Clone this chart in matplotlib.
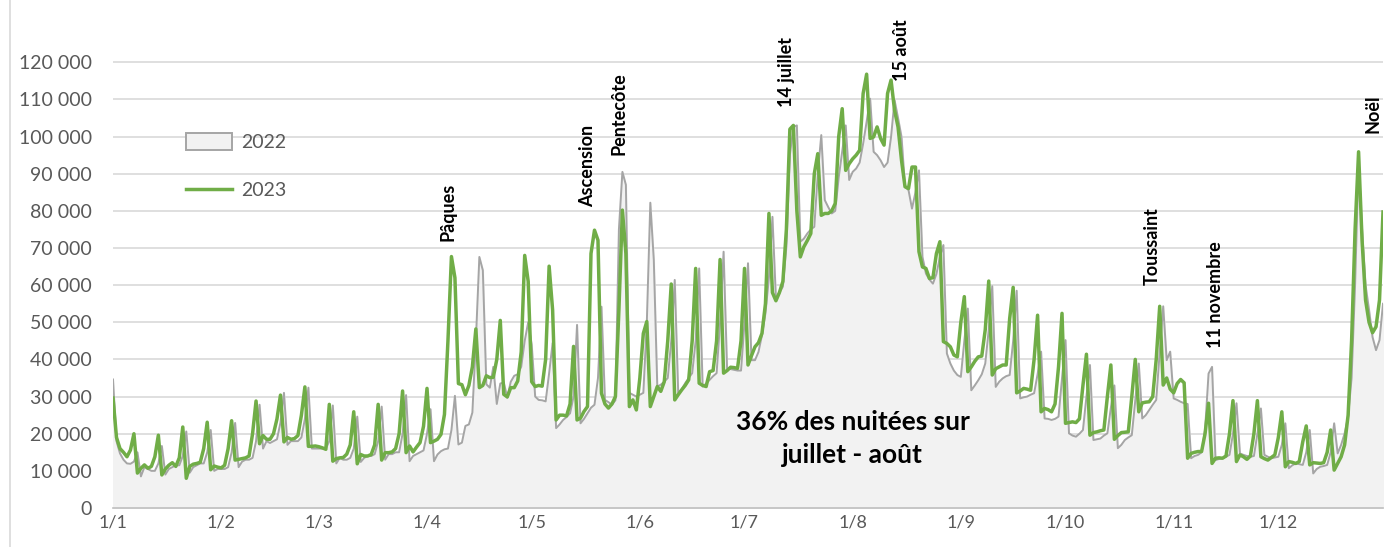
import matplotlib
matplotlib.use('Agg')
import matplotlib.pyplot as plt
from matplotlib.patches import Patch
from matplotlib.lines import Line2D
from matplotlib.ticker import FuncFormatter
import numpy as np

# nuitées par jour, en milliers
jan22 = [34.6, 18, 14.7, 13, 12, 11.9, 12.5, 15, 8.5, 11, 10.5, 10, 10, 12, 16.7,
         9, 10.5, 11, 11.5, 11.5, 14, 20.6, 9.5, 11, 11.5, 12, 12, 15, 21, 10, 10.5]
feb22 = [10.5, 10.5, 11, 15, 22.9, 11, 12.5, 13, 13, 13.5, 18, 27.8, 16, 18, 17.5,
         18, 18.5, 23, 31, 17, 18, 18, 18, 19, 24, 32.4, 16, 16]
mar22 = [16, 16, 16, 18, 27.6, 12, 13.5, 13, 13, 13.5, 16, 24.6, 12.4, 13.5, 14, 14,
         14.5, 18, 27.3, 13, 14.5, 14.5, 15, 15, 20, 30.4, 12.6, 14, 14.5, 15, 15.5]
apr22 = [20, 26.6, 12.6, 14.4, 15.3, 15.8, 16, 21, 30.2, 17.1, 17.6, 22.1, 22.5, 25.7,
         45, 67.6, 64, 33.3, 32.4, 38, 28, 33.5, 33.8, 29.7, 34, 35.6, 36, 38, 45, 50]
may22 = [44, 30, 29.1, 29, 28.7, 36.3, 44.4, 21.5, 22.5, 23.7, 24.5, 25.5, 30, 49.3,
         22.8, 24, 25.5, 27, 27.8, 35, 54.2, 29.1, 28.5, 27.8, 29, 75, 90.5, 87, 31, 30.5, 30]
jun22 = [30.5, 31, 50, 82.2, 66.8, 32.7, 33.2, 34, 35, 45, 61.4, 30.9, 32, 33.6, 35,
         36.3, 45, 64.5, 32.7, 33.5, 34.5, 35.5, 36.3, 50, 69, 37.6, 37.4, 37.2, 37, 37]
jul22 = [50, 65.9, 39.8, 39.8, 42, 46.5, 52.4, 62, 78.4, 56.4, 58, 59.6, 70.3, 95, 102.6,
         103, 71.7, 72.5, 73.9, 75, 75.7, 90, 100.4, 82.9, 81, 79.3, 80, 89, 96, 103, 88.3]
aug22 = [90.5, 91.4, 93, 98.1, 104, 110.2, 95.9, 95, 93.6, 91.8, 93, 99.9, 109.8, 105,
         99.9, 86.5, 85.6, 80.6, 85, 90.9, 67.6, 63.1, 61.5, 60.4, 63, 67.6, 70.8,
         41.6, 38.9, 37, 35.8]
sep22 = [35.3, 45, 53.7, 31.7, 33, 34.4, 36, 38.9, 48, 59.7, 32.6, 34, 34.9, 35.5, 35.8,
         45, 58.5, 29.5, 29.8, 30, 30.5, 30.9, 36, 42.1, 24.1, 24, 23.7, 24, 24.6, 35]
oct22 = [45.2, 20.1, 19.5, 19.2, 20, 21, 30, 38.5, 18.3, 18.5, 18.7, 19.5, 20.1, 27, 33,
         16.1, 17, 18.3, 19, 19.6, 29, 38.9, 24.1, 25, 26.4, 27.8, 29.1, 42, 54.3, 39.8, 42.1]
nov22 = [29.5, 29.1, 28.6, 28.2, 28, 13.4, 14, 14.3, 15, 21, 36.2, 38, 12.9, 13.2, 13.4,
         13.8, 14.3, 20, 28.2, 14.7, 14.3, 14, 13.8, 14, 20, 26.8, 14.3, 13.8, 13.4, 13.6]
dec22 = [13.8, 17, 22.8, 10.7, 11.5, 12, 11.8, 11.6, 15, 21, 9.3, 10.5, 11.1, 11.3, 11.6,
         15, 22.8, 14.7, 17, 20.1, 24.6, 35, 60, 93, 75, 60, 53.3, 46, 42.5, 45.2, 55]

jan23 = [29.6, 19, 16, 15, 13.8, 15.6, 20, 9.4, 10.7, 11.6, 10.7, 11.2, 13.8, 19.6, 8.9,
         10.5, 11.5, 12.2, 11.2, 13.5, 21.8, 8, 11.2, 11.8, 12, 12.3, 16, 23.1, 10.3, 11.3, 11.0]
feb23 = [10.8, 11.5, 16, 23.5, 12.9, 13.1, 13.3, 13.5, 14, 20, 28.8, 17.3, 19.5, 18.5,
         18.5, 20, 24, 30.4, 17.8, 19, 18.5, 18.7, 19.5, 25, 32.6, 16.6, 16.6, 16.7]
mar23 = [16.5, 16.2, 15.8, 27.9, 12.6, 13.3, 13.5, 13.6, 14.5, 17, 25.9, 11.9, 14.4, 14,
         14, 14.4, 17, 27.9, 12.9, 14.9, 14.9, 15.1, 16, 20, 31.5, 14.9, 16.7, 15.1, 16.4, 17.6, 22]
apr23 = [32.2, 17.6, 18, 18.5, 19.8, 25.2, 45, 67.7, 62, 33.5, 33.2, 30.5, 33, 38, 48.2,
         32.4, 33, 35.6, 35.1, 35.2, 40, 50.5, 30.6, 29.9, 32.4, 32.4, 34.2, 42, 68, 61]
may23 = [34, 32.7, 33, 32.8, 40, 65.1, 53.3, 23.7, 25, 25, 24.8, 28, 43.5, 23.7, 24.2,
         26, 27.3, 68.5, 74.8, 72.1, 30.9, 28, 26.9, 28, 30, 53.3, 80.2, 68.5, 27.3, 29.1, 26.4]
jun23 = [35, 47, 50.2, 27.3, 30, 32.7, 31.4, 34, 45, 60.3, 29.1, 30.5, 31.8, 33, 34.5,
         45, 64.5, 33.6, 33, 32.7, 36.7, 37, 45, 66.9, 36.3, 37, 37.9, 37.8, 37.6, 45]
jul23 = [64.5, 38.5, 41, 43.4, 44.5, 47, 55, 79.3, 58, 55.8, 58, 61, 75, 102, 103, 80,
         67.6, 70.3, 72, 73.9, 90, 95.4, 78.8, 79.3, 79.3, 80, 82, 100, 107.5, 90.9, 92.7]
aug23 = [94, 95, 96.3, 111.6, 116.8, 99.5, 99.9, 102.6, 99.5, 97.7, 111.6, 115.2, 107.1,
         102.6, 93.6, 86.5, 86, 91.8, 91.8, 69, 64.9, 64.5, 61.8, 62, 68.5, 71.7,
         44.8, 44.3, 43.4, 41.2, 40.7]
sep23 = [50, 56.9, 36.7, 38, 39.5, 40.7, 40.9, 48, 61.1, 35.8, 37.5, 38, 38.5, 38.5, 51,
         59.4, 31, 31.5, 32.2, 32, 31.7, 40, 51.9, 25.9, 26.8, 26.5, 25.9, 28, 38, 52.4]
oct23 = [22.8, 23, 23.2, 23, 24, 33, 41.4, 19.6, 20.3, 20.5, 20.8, 21, 30, 38.5, 18.5,
         19.5, 20.3, 20.4, 20.5, 30, 40, 25.9, 28.3, 28.5, 28.6, 30, 40, 54.3, 33.1, 35, 32]
nov23 = [31, 33.5, 34.6, 33.7, 13.4, 14.7, 15, 15.2, 15.2, 20, 28.2, 12, 13.4, 13.5, 13.4,
         14, 20, 28.9, 12.5, 14.3, 13.8, 13.1, 14, 20, 28.9, 13.8, 13.3, 12.9, 13.6, 14.3]
dec23 = [19, 25.9, 11.1, 12.5, 12.3, 12, 12.5, 17.8, 22.1, 11.6, 12.2, 12.1, 12, 12.2, 15,
         21, 10.2, 12, 13.8, 17, 25, 45, 75, 95.9, 72, 56, 50, 47.2, 48.8, 56, 79.7]

months22 = [jan22, feb22, mar22, apr22, may22, jun22, jul22, aug22, sep22, oct22, nov22, dec22]
months23 = [jan23, feb23, mar23, apr23, may23, jun23, jul23, aug23, sep23, oct23, nov23, dec23]
month_labels = ['1/1', '1/2', '1/3', '1/4', '1/5', '1/6', '1/7', '1/8', '1/9', '1/10', '1/11', '1/12']

# événements (jour de l'année 2023 de l'étiquette, hauteur du bas du texte)
events = ['Pâques', 'Ascension', 'Pentecôte', '14 juillet', '15 août', 'Toussaint', '11 novembre', 'Noël']
event_days = [96, 136, 145, 193, 226, 298, 316, 361]
event_y = [72000, 81000, 95000, 108000, 115000, 60000, 43000, 101000]

y22 = np.concatenate([np.array(m) for m in months22]) * 1000
y23 = np.concatenate([np.array(m) for m in months23]) * 1000
days = np.arange(len(y23))
month_starts = np.cumsum([0] + [len(m) for m in months23[:-1]])

plt.rcParams['font.family'] = ['Lato', 'DejaVu Sans']
grey_txt = '#595959'

fig = plt.figure(figsize=(13.94, 5.47), dpi=100)
ax = fig.add_axes([113 / 1394, 39 / 547, 1270 / 1394, 468 / 547])

# cadre gauche du graphique
fig.add_artist(Line2D([10 / 1394, 10 / 1394], [0, 1], color='#d9d9d9', lw=1.2))

ax.fill_between(days, 0, y22, color='#f2f2f2', zorder=1)
ax.plot(days, y22, color='#a5a5a5', lw=1.4, zorder=2)
ax.plot(days, y23, color='#70ad47', lw=2.5, zorder=3)

ax.set_xlim(0, len(days) - 1)
ax.set_ylim(0, 126000)
ax.set_yticks(np.arange(0, 120001, 10000))
ax.yaxis.set_major_formatter(FuncFormatter(lambda v, p: '{:,.0f}'.format(v).replace(',', ' ')))
ax.set_xticks(month_starts)
ax.set_xticklabels(month_labels)
ax.grid(axis='y', color='#d9d9d9', lw=1.2, zorder=0)
ax.set_axisbelow(True)
for s in ['top', 'right', 'left']:
    ax.spines[s].set_visible(False)
ax.spines['bottom'].set_color('#bfbfbf')
ax.spines['bottom'].set_linewidth(1.2)
ax.tick_params(axis='y', length=0, pad=15, labelsize=14, labelcolor=grey_txt)
ax.tick_params(axis='x', length=0, pad=5, labelsize=13, labelcolor=grey_txt)

for name, d, yv in zip(events, event_days, event_y):
    ax.text(d, yv, name, rotation=90, ha='center', va='bottom', fontsize=13,
            fontweight='bold', color='black')

ax.text(212, 18600, '36% des nuitées sur\njuillet - août', ha='center', va='center',
        fontsize=19, fontweight='bold', linespacing=1.45)

handles = [Patch(facecolor='#f2f2f2', edgecolor='#a5a5a5', lw=1.4, label='2022'),
           Line2D([0], [0], color='#70ad47', lw=2.5, label='2023')]
fig.legend(handles=handles, loc='upper left', bbox_to_anchor=(168 / 1394, 1 - 116 / 547),
           frameon=False, fontsize=14, labelcolor=grey_txt, handlelength=2.4,
           handleheight=0.9, labelspacing=1.55, handletextpad=0.45)

fig.savefig('out.png', dpi=100)
